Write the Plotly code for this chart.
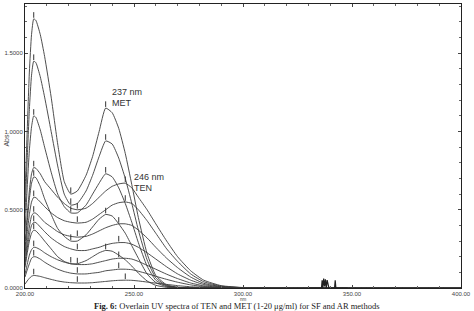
import plotly.graph_objects as go

# Wavelength sample points (nm)
wl = [200, 201, 202, 203, 204, 205, 207, 209, 212, 215, 218, 221, 224, 228, 231, 234, 237,
      240, 243, 246, 249, 252, 256, 260, 265, 270, 276, 282, 290, 300, 320, 360, 400]

# MET spectra (peak at 237 nm)
met1 = [0.60, 1.00, 1.38, 1.62, 1.72, 1.71, 1.62, 1.48, 1.22, 0.92, 0.68, 0.60, 0.62, 0.72, 0.84, 1.00, 1.15,
        1.12, 1.02, 0.86, 0.66, 0.45, 0.22, 0.08, 0.02, 0.005, 0.002, 0.001, 0, 0, 0, 0, 0]
met2 = [0.48, 0.82, 1.14, 1.36, 1.45, 1.44, 1.35, 1.22, 1.00, 0.78, 0.60, 0.53, 0.54, 0.62, 0.72, 0.84, 0.94,
        0.92, 0.83, 0.70, 0.54, 0.37, 0.18, 0.065, 0.015, 0.004, 0.001, 0, 0, 0, 0, 0, 0]
met3 = [0.36, 0.64, 0.88, 1.03, 1.10, 1.09, 1.01, 0.90, 0.74, 0.60, 0.52, 0.48, 0.48, 0.53, 0.60, 0.67, 0.73,
        0.71, 0.64, 0.54, 0.42, 0.29, 0.14, 0.05, 0.012, 0.003, 0.001, 0, 0, 0, 0, 0, 0]
met4 = [0.24, 0.42, 0.57, 0.67, 0.71, 0.705, 0.65, 0.57, 0.47, 0.38, 0.33, 0.30, 0.30, 0.34, 0.39, 0.44, 0.47,
        0.46, 0.41, 0.35, 0.27, 0.19, 0.09, 0.035, 0.008, 0.002, 0.001, 0, 0, 0, 0, 0, 0]
met5 = [0.13, 0.22, 0.30, 0.35, 0.37, 0.365, 0.335, 0.30, 0.25, 0.20, 0.17, 0.155, 0.155, 0.175, 0.20, 0.225, 0.24,
        0.235, 0.21, 0.18, 0.14, 0.095, 0.045, 0.017, 0.004, 0.001, 0, 0, 0, 0, 0, 0, 0]

# TEN spectra (peak at 246 nm)
ten1 = [0.28, 0.46, 0.62, 0.73, 0.77, 0.765, 0.73, 0.68, 0.63, 0.58, 0.54, 0.51, 0.50, 0.51, 0.54, 0.58, 0.62,
        0.65, 0.665, 0.67, 0.64, 0.58, 0.50, 0.41, 0.30, 0.20, 0.11, 0.05, 0.015, 0.003, 0, 0, 0]
ten2 = [0.21, 0.35, 0.47, 0.55, 0.58, 0.577, 0.55, 0.52, 0.48, 0.45, 0.43, 0.42, 0.415, 0.42, 0.44, 0.47, 0.50,
        0.53, 0.545, 0.55, 0.54, 0.50, 0.43, 0.35, 0.25, 0.17, 0.09, 0.04, 0.012, 0.002, 0, 0, 0]
ten3 = [0.17, 0.29, 0.39, 0.46, 0.48, 0.478, 0.45, 0.42, 0.39, 0.36, 0.34, 0.33, 0.325, 0.33, 0.345, 0.365, 0.385,
        0.40, 0.41, 0.41, 0.40, 0.37, 0.32, 0.26, 0.19, 0.13, 0.07, 0.03, 0.009, 0.002, 0, 0, 0]
ten4 = [0.15, 0.25, 0.34, 0.40, 0.42, 0.418, 0.39, 0.36, 0.32, 0.29, 0.265, 0.25, 0.24, 0.24, 0.25, 0.26, 0.275,
        0.285, 0.29, 0.29, 0.28, 0.26, 0.225, 0.185, 0.135, 0.09, 0.05, 0.022, 0.007, 0.001, 0, 0, 0]
ten5 = [0.09, 0.15, 0.21, 0.245, 0.26, 0.259, 0.245, 0.225, 0.20, 0.18, 0.165, 0.155, 0.15, 0.15, 0.155, 0.165, 0.175,
        0.185, 0.19, 0.19, 0.185, 0.17, 0.145, 0.12, 0.088, 0.06, 0.032, 0.014, 0.004, 0.001, 0, 0, 0]
ten6 = [0.07, 0.115, 0.155, 0.19, 0.20, 0.199, 0.185, 0.165, 0.14, 0.12, 0.105, 0.095, 0.09, 0.09, 0.095, 0.10, 0.11,
        0.115, 0.12, 0.12, 0.117, 0.107, 0.092, 0.075, 0.055, 0.037, 0.02, 0.009, 0.003, 0.001, 0, 0, 0]
ten7 = [0.025, 0.045, 0.062, 0.075, 0.08, 0.079, 0.074, 0.066, 0.055, 0.045, 0.038, 0.034, 0.032, 0.032, 0.034, 0.038, 0.042,
        0.046, 0.049, 0.05, 0.049, 0.045, 0.038, 0.031, 0.023, 0.015, 0.008, 0.004, 0.001, 0, 0, 0, 0]

# small instrument noise spikes near 340 nm
noise_x = [330, 336, 336.3, 336.6, 337.0, 337.4, 337.8, 338.2, 338.6, 339.0, 339.4, 342.0, 342.3, 342.6, 348]
noise_y = [0, 0, 0.05, 0, 0.06, 0.01, 0.055, 0, 0.05, 0.01, 0, 0, 0.05, 0, 0]

x_ticks = [200, 250, 300, 350, 400]
x_tick_text = ["200.00", "250.00", "300.00", "350.00", "400.00"]
y_ticks = [0, 0.5, 1.0, 1.5]
y_tick_text = ["0.0000", "0.5000", "1.0000", "1.5000"]

curves = [met1, met2, met3, met4, met5, ten1, ten2, ten3, ten4, ten5, ten6, ten7]

fig = go.Figure()
line_col = "#3a3a3a"
for c in curves:
    fig.add_trace(go.Scatter(x=wl, y=c, mode="lines",
                             line=dict(color=line_col, width=0.9, shape="spline", smoothing=0.5),
                             hoverinfo="skip", showlegend=False))

# peak / valley markers derived from the data
mx, my = [], []
for c in curves:
    i1 = max(range(0, 8), key=lambda i: c[i])
    i2 = max(range(13, 22), key=lambda i: c[i])
    iv = min(range(9, 16), key=lambda i: c[i])
    for i in (i1, i2, iv):
        mx.append(wl[i])
        my.append(c[i] + 0.025)
fig.add_trace(go.Scatter(x=mx, y=my, mode="markers",
                         marker=dict(symbol="line-ns-open", size=4, color="#333",
                                     line=dict(color="#333", width=1)),
                         hoverinfo="skip", showlegend=False))

fig.add_trace(go.Scatter(x=noise_x, y=noise_y, mode="lines",
                         line=dict(color="#222", width=1.2), hoverinfo="skip", showlegend=False))

fig.update_layout(
    width=474, height=311,
    margin=dict(l=25, r=11, t=3, b=23),
    paper_bgcolor="white", plot_bgcolor="white",
    font=dict(family="Liberation Sans, Arial, sans-serif", size=6, color="#444"),
    xaxis=dict(range=[200, 400], tickvals=x_ticks, ticktext=x_tick_text,
               showline=True, linecolor="#222", linewidth=1, mirror="ticks",
               ticks="inside", ticklen=3, tickcolor="#444", showgrid=False, zeroline=False,
               minor=dict(dtick=10, ticks="inside", ticklen=2, tickcolor="#666"),
               tickfont=dict(size=6, color="#444")),
    yaxis=dict(range=[0, 1.815], tickvals=y_ticks, ticktext=y_tick_text,
               showline=True, linecolor="#222", linewidth=1, mirror="ticks",
               ticks="inside", ticklen=3, tickcolor="#444", showgrid=False, zeroline=False,
               minor=dict(dtick=0.1, ticks="inside", ticklen=2, tickcolor="#666"),
               tickfont=dict(size=6, color="#444")),
)

# plot area in pixels: x 25..463, y 3..288
def px_x(p):
    return (p - 25) / 438.0

def px_y(p):
    return (288 - p) / 285.0

annos = [
    dict(x=239.2, y=1.25, xref="x", yref="y", text="237 nm", showarrow=False,
         xanchor="left", yanchor="middle", font=dict(size=9, color="#333")),
    dict(x=239.2, y=1.18, xref="x", yref="y", text="MET", showarrow=False,
         xanchor="left", yanchor="middle", font=dict(size=9, color="#333")),
    dict(x=249.3, y=0.71, xref="x", yref="y", text="246 nm", showarrow=False,
         xanchor="left", yanchor="middle", font=dict(size=9, color="#333")),
    dict(x=249.3, y=0.64, xref="x", yref="y", text="TEN", showarrow=False,
         xanchor="left", yanchor="middle", font=dict(size=9, color="#333")),
    dict(x=px_x(6), y=px_y(140), xref="paper", yref="paper", text="Abs", textangle=-90,
         showarrow=False, xanchor="center", yanchor="middle", font=dict(size=7, color="#444")),
    dict(x=300, y=px_y(299.5), xref="x", yref="paper", text="nm", showarrow=False,
         xanchor="center", yanchor="middle", font=dict(size=4.5, color="#444")),
    dict(x=px_x(238), y=px_y(306), xref="paper", yref="paper",
         text="<b>Fig. 6:</b> Overlain UV spectra of TEN and MET (1-20 μg/ml) for SF and AR methods",
         showarrow=False, xanchor="center", yanchor="middle",
         font=dict(family="Liberation Serif, Times New Roman, serif", size=8.5, color="#222")),
]
fig.update_layout(annotations=annos)

fig.write_html("out.html")
